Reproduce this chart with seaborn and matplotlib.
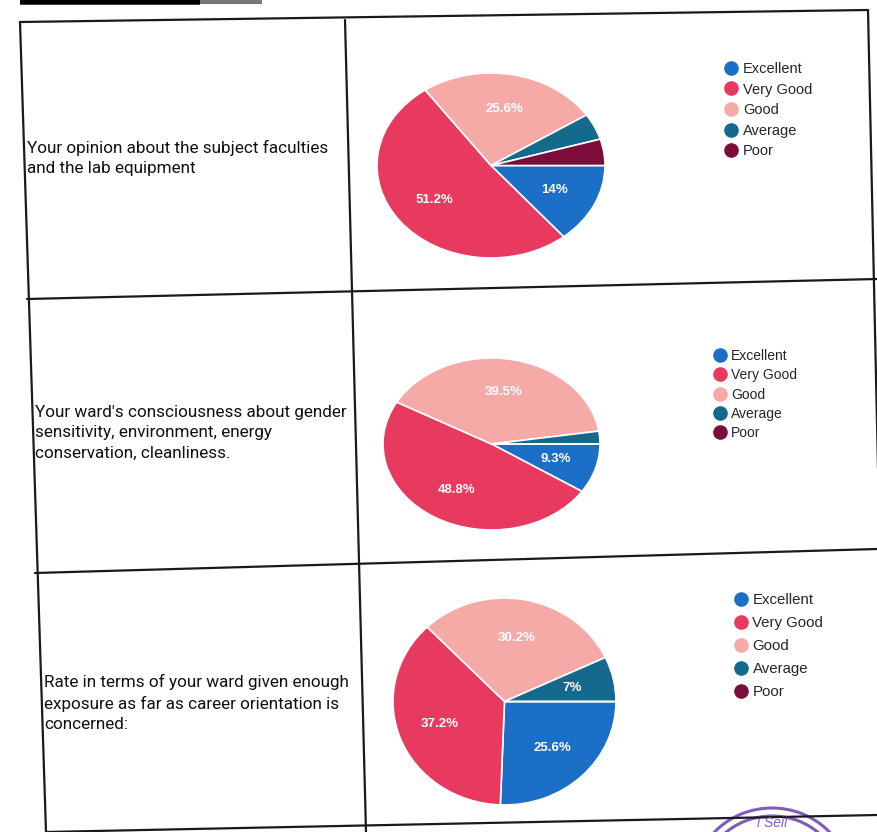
import matplotlib
matplotlib.use("Agg")
import matplotlib.pyplot as plt
import seaborn as sns
from matplotlib.lines import Line2D
from matplotlib.patches import Arc

sns.set_theme(style="white")
plt.rcParams['font.family'] = ['Liberation Sans', 'DejaVu Sans']

# categories and colours used in every pie
categories = ["Excellent", "Very Good", "Good", "Average", "Poor"]
palette = sns.color_palette(["#1c6fc7", "#e8395f", "#f5aaa8", "#146a8c", "#7d0c3b"])

# question text for each row
questions = [
    "Your opinion about the subject faculties\nand the lab equipment",
    "Your ward's consciousness about gender\nsensitivity, environment, energy\nconservation, cleanliness.",
    "Rate in terms of your ward given enough\nexposure as far as career orientation is\nconcerned:",
]

# percentages (Excellent, Very Good, Good, Average, Poor)
faculty_pct = [14, 51.2, 25.6, 4.6, 4.6]
gender_pct = [9.3, 48.8, 39.5, 2.4, 0]
career_pct = [25.6, 37.2, 30.2, 7, 0]
all_pct = [faculty_pct, gender_pct, career_pct]

W, H = 877, 832
fig = plt.figure(figsize=(W / 100, H / 100), dpi=100)
fig.patch.set_facecolor("white")

# full size axes in pixel coords for the scanned table
bg = fig.add_axes([0, 0, 1, 1])
bg.set_xlim(0, W)
bg.set_ylim(H, 0)
bg.axis("off")

# black strip at the very top of the page
bg.plot([20, 200], [1.5, 1.5], color="black", lw=4, solid_capstyle="butt")
bg.plot([200, 262], [1.5, 1.5], color="#777777", lw=3, solid_capstyle="butt")

# table lines (the scan is slightly skewed)
line_kw = dict(color="#1a1a1a", lw=1.6)
bg.plot([20, 868], [22, 10], **line_kw)            # top
bg.plot([20, 46], [22, 832], **line_kw)            # left
bg.plot([345, 366], [20, 832], **line_kw)          # middle
bg.plot([868, 880], [10, 560], **line_kw)          # right
bg.plot([27, 877], [299, 279], **line_kw)          # row 1 / row 2
bg.plot([35, 877], [573, 549], **line_kw)          # row 2 / row 3
bg.plot([46, 877], [832, 815], **line_kw)          # bottom

# question texts
text_pos = [(27, 158), (35, 433), (44, 703)]
for (tx, ty), q in zip(text_pos, questions):
    bg.text(tx, ty, q, fontsize=12.3, family=["Roboto", "DejaVu Sans"], color="#111111",
            va="center", ha="left", linespacing=1.42)

# purple stamp peeking in at the bottom right
for r in (72, 64):
    bg.add_patch(Arc((772, 880), 2 * r + 10, 2 * r, theta1=0, theta2=360,
                     color="#6a3fb5", lw=2.2, alpha=0.85))
bg.text(772, 823, "i Seil", fontsize=10, color="#6a3fb5", ha="center", va="center",
        fontstyle="italic", alpha=0.85)

# pie boxes (left, top, right, bottom) in pixels and legend anchors
pie_boxes = [(377, 73, 605, 258), (383, 358, 600, 530), (393, 598, 616, 805)]
legend_anchor = [(724, 62), (713, 349), (733, 593)]
legend_size = [10.5, 10, 10.8]
legend_gap = [0.45, 0.38, 0.6]


def pct_label(p):
    if p < 5:
        return ""
    return f"{p:.1f}".rstrip("0").rstrip(".") + "%"


for pct, (l, t, r, b), (lx, ly), fs, gap in zip(all_pct, pie_boxes, legend_anchor,
                                                  legend_size, legend_gap):
    ax = fig.add_axes([l / W, 1 - b / H, (r - l) / W, (b - t) / H])
    ax.pie(pct, colors=palette, startangle=0, counterclock=False,
           autopct=pct_label, pctdistance=0.62,
           wedgeprops=dict(edgecolor="white", linewidth=1.2),
           textprops=dict(color="white", fontsize=9.5, fontweight="bold"))
    ax.set_aspect("auto")
    ax.set_xlim(-1.0, 1.0)
    ax.set_ylim(-1.0, 1.0)

    handles = [Line2D([], [], marker="o", ls="", color=c, markersize=9.5) for c in palette]
    fig.legend(handles, categories, loc="upper left",
               bbox_to_anchor=(lx / W, 1 - ly / H), bbox_transform=fig.transFigure,
               frameon=False, fontsize=fs, handletextpad=0.3, labelspacing=gap,
               handlelength=1.0, borderpad=0, borderaxespad=0)

fig.savefig("out.png", dpi=100, facecolor="white")
